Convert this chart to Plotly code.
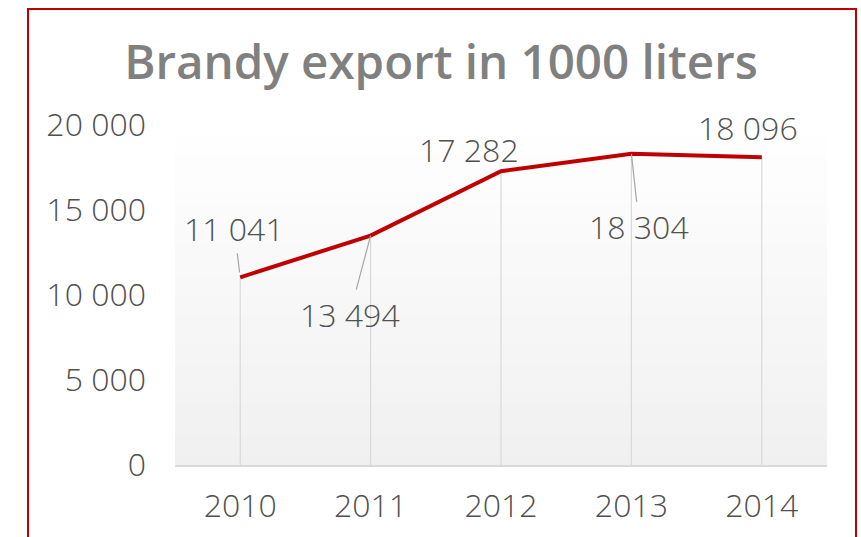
import plotly.graph_objects as go

# Brandy export volumes, thousand liters
years = ["2010", "2011", "2012", "2013", "2014"]
export_volume = [11041, 13494, 17282, 18304, 18096]
y_ticks = [0, 5000, 10000, 15000, 20000]

# Label placement (pixel offsets of the label centre from its point) and leader flags
label_dx = [-6, -21, -32, 8, -14]
label_dy = [-49, 79, -22, 73, -30]
label_leader = [True, True, False, True, False]
leader_standoff = [5, 0, 0, 0, 0]

W, H = 861, 537
M_L, M_R, M_T, M_B = 175, 34, 125, 72
PW, PH = W - M_L - M_R, H - M_T - M_B

TEXT = "#505050"
RED = "#c00000"
FONT_FAMILY = "Open Sans"
FONT_SIZE = 32


def light_font():
    return dict(family=FONT_FAMILY, size=FONT_SIZE, color=TEXT, weight=300)


def fmt(v):
    return f"{v:,}".replace(",", " ")


def paper_x(px):
    return (px - M_L) / PW


def paper_y(py):
    return (H - M_B - py) / PH


fig = go.Figure()

# Drop lines from each point down to the axis
drop_x, drop_y = [], []
for yr, v in zip(years, export_volume):
    drop_x += [yr, yr, None]
    drop_y += [v, 0, None]
fig.add_trace(go.Scatter(x=drop_x, y=drop_y, mode="lines",
                         line=dict(color="#d9d9d9", width=1.2),
                         hoverinfo="skip", showlegend=False))

# Main series
fig.add_trace(go.Scatter(x=years, y=export_volume, mode="lines",
                         line=dict(color=RED, width=4),
                         showlegend=False))

# Value labels (x given as category index so numeric-looking years are not
# mistaken for positions)
annotations = []
for i, (v, dx, dy, lead, so) in enumerate(zip(export_volume, label_dx, label_dy,
                                              label_leader, leader_standoff)):
    if lead:
        annotations.append(dict(xref="x", yref="y", x=i, y=v, text=fmt(v),
                                showarrow=True, axref="pixel", ayref="pixel",
                                ax=dx, ay=dy, arrowhead=0, arrowwidth=1.2,
                                arrowcolor="#a6a6a6", standoff=so, borderpad=3,
                                font=light_font()))
    else:
        annotations.append(dict(xref="x", yref="y", x=i, y=v, text=fmt(v),
                                showarrow=False, xshift=dx, yshift=-dy,
                                font=light_font()))

# Vertical gradient behind the plot area (white at top to light grey)
shapes = []
bands = 34
for i in range(bands):
    t = (i + 0.5) / bands
    c = round(255 - t * (255 - 240))
    shapes.append(dict(type="rect", xref="paper", yref="paper",
                       x0=0, x1=1, y0=1 - (i + 1) / bands, y1=1 - i / bands,
                       fillcolor=f"rgb({c},{c},{c})", line=dict(width=0),
                       layer="below"))

# Red frame around the chart (its lower edge runs past the bottom of the page)
shapes.append(dict(type="rect", xref="paper", yref="paper",
                   x0=paper_x(28), x1=paper_x(856),
                   y0=paper_y(580), y1=paper_y(9),
                   line=dict(color=RED, width=2), fillcolor="rgba(0,0,0,0)",
                   layer="above"))

fig.update_layout(
    width=W, height=H,
    margin=dict(l=M_L, r=M_R, t=M_T, b=M_B, autoexpand=False),
    paper_bgcolor="white", plot_bgcolor="rgba(0,0,0,0)",
    separators=". ",
    shapes=shapes,
    annotations=annotations,
    title=dict(text="Brandy export in 1000 liters",
               x=441 / W, xanchor="center", y=1 - 62 / H, yanchor="middle",
               font=dict(family=FONT_FAMILY, size=47.5, color="#808080", weight=600)),
    xaxis=dict(type="category", range=[-0.5, 4.5], showgrid=False,
               showline=True, linecolor="#d9d9d9", linewidth=1.5,
               ticks="", tickfont=light_font(), ticklabelstandoff=12,
               zeroline=False, fixedrange=True, automargin=False),
    yaxis=dict(range=[0, 20000], tickvals=y_ticks, tickformat=",d",
               showgrid=False, zeroline=False, showline=False, ticks="",
               tickfont=light_font(), ticklabelstandoff=28, fixedrange=True,
               automargin=False),
)

fig.write_html("out.html")
